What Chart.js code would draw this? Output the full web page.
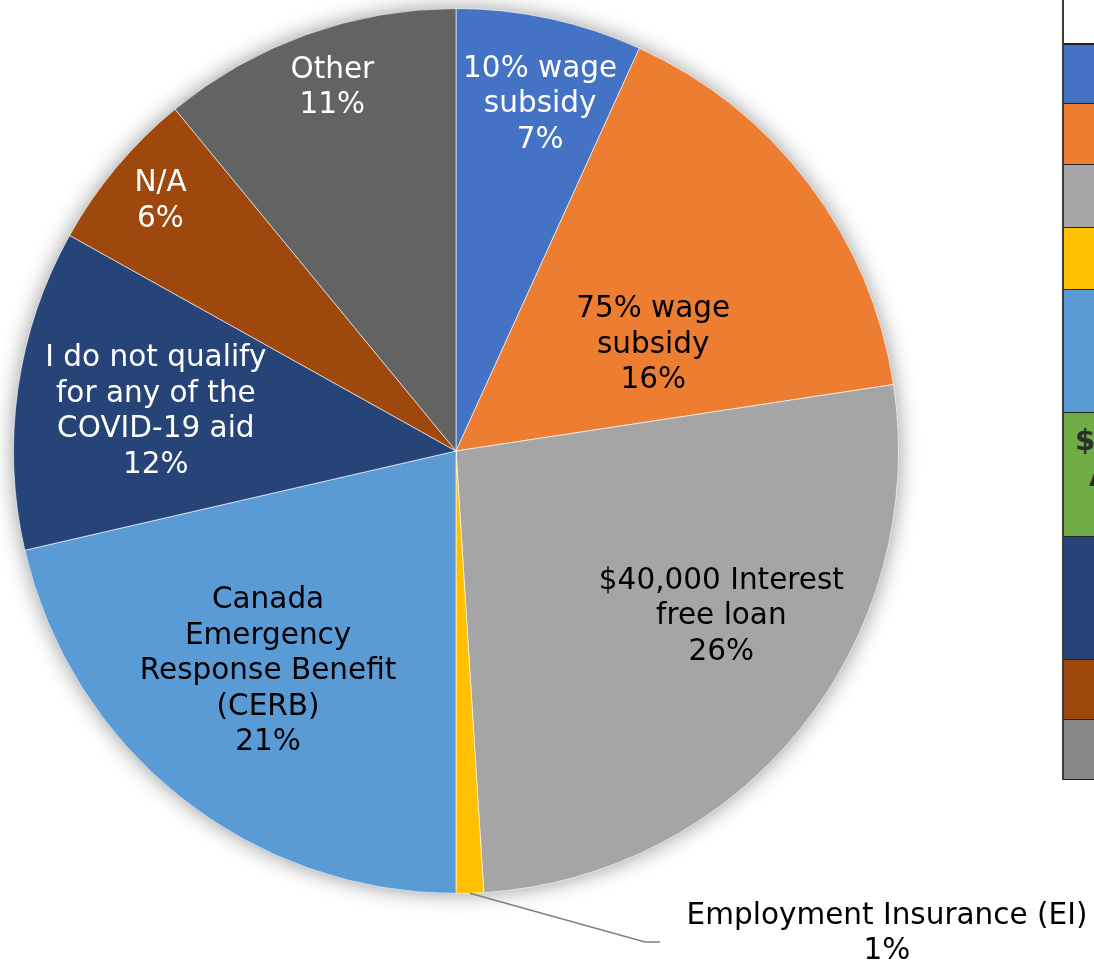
<!DOCTYPE html>
<html>
<head>
<meta charset="utf-8">
<script src="https://cdn.jsdelivr.net/npm/chart.js@4.4.1/dist/chart.umd.min.js"></script>
<style>
  html, body { margin: 0; padding: 0; background: #fff; }
  #wrap { position: relative; width: 1094px; height: 965px; overflow: hidden; }
  #pie { position: absolute; left: 0; top: 0; }
  #side { position: absolute; left: 1062px; top: 0; width: 60px; border-left: 2px solid #3a3a3a; font-family: "DejaVu Sans", sans-serif; }
  #side div { box-sizing: border-box; border-bottom: 1px solid #222; position: relative; overflow: hidden; }
  #side span { position: absolute; font-weight: bold; color: #2d2d2d; font-size: 29px; }
</style>
</head>
<body>
<div id="wrap">
  <canvas id="pie" width="1094" height="965"></canvas>
  <div id="side"></div>
</div>
<script>
// ---- 数据 ----
const categories = ['10% wage subsidy', '75% wage subsidy', '$40,000 Interest free loan', 'Employment Insurance (EI)',
  'Canada Emergency Response Benefit (CERB)', 'Other program', 'I do not qualify for any of the COVID-19 aid', 'N/A', 'Other']
const values = [6.8, 15.8, 26.4, 1.0, 21.4, 0, 11.7, 5.95, 10.95]
const labelLines = [['10% wage', 'subsidy'], ['75% wage', 'subsidy'], ['$40,000 Interest', 'free loan'], ['Employment Insurance (EI)'],
  ['Canada', 'Emergency', 'Response Benefit', '(CERB)'], [], ['I do not qualify', 'for any of the', 'COVID-19 aid'], ['N/A'], ['Other']]

// ---- 样式 ----
const colors = ['#4472C4', '#ED7D31', '#A5A5A5', '#FFC000', '#5B9BD5', '#70AD47', '#264478', '#9E480E', '#636363']
const textColors = ['#fff', '#000', '#000', '#000', '#000', '#000', '#fff', '#fff', '#fff']
// r: 半径比例, da: 角度偏移(度); out: 外部标注
const placement = [
  { r: 0.806, da: 1.4 }, { r: 0.506, da: 8.8 }, { r: 0.707, da: -6.9 }, { out: true, x: 887, y: 934, elbow: [645, 942, 660, 942] },
  { r: 0.655, da: 1.9 }, null, { r: 0.684, da: -0.7 }, { r: 0.874, da: 0.3 }, { r: 0.867, da: 0.9 },
]
const FONT = '29.5px "DejaVu Sans", sans-serif'
const LINE_H = 35.5

// 右侧被裁切的表格
const sideRows = [{ c: '#fff', h: 45 }, { c: colors[0], h: 59 }, { c: colors[1], h: 61 }, { c: colors[2], h: 63 }, { c: colors[3], h: 62 },
  { c: colors[4], h: 123 }, { c: colors[5], h: 124, t: [['$', 11, 10], ['A', 25, 46]] }, { c: colors[6], h: 123 }, { c: colors[7], h: 60 }, { c: '#878787', h: 60 }]
const side = document.getElementById('side')
sideRows.forEach((row, i) => {
  const d = document.createElement('div')
  d.style.height = row.h + 'px'
  d.style.background = row.c
  if (i === 0) d.style.borderBottom = '2px solid #222'
  ;(row.t || []).forEach(([txt, x, y]) => {
    const s = document.createElement('span')
    s.textContent = txt
    s.style.left = x + 'px'
    s.style.top = y + 'px'
    d.appendChild(s)
  })
  side.appendChild(d)
})

const total = values.reduce((a, b) => a + b, 0)

// 阴影
const shadowPlugin = {
  id: 'shadow',
  beforeDatasetsDraw(chart) {
    const arc = chart.getDatasetMeta(0).data[0]
    const ctx = chart.ctx
    ctx.save()
    ctx.shadowColor = 'rgba(0,0,0,0.45)'
    ctx.shadowBlur = 22
    ctx.fillStyle = '#fff'
    ctx.beginPath()
    ctx.arc(arc.x, arc.y, arc.outerRadius - 1, 0, Math.PI * 2)
    ctx.fill()
    ctx.restore()
  },
}

// 数据标签
const labelPlugin = {
  id: 'sliceLabels',
  afterDatasetsDraw(chart) {
    const ctx = chart.ctx
    const meta = chart.getDatasetMeta(0)
    ctx.save()
    ctx.font = FONT
    ctx.textAlign = 'center'
    ctx.textBaseline = 'middle'
    meta.data.forEach((arc, i) => {
      const p = placement[i]
      if (!p || !values[i]) return
      const lines = labelLines[i].concat([Math.round(values[i] / total * 100) + '%'])
      let cx, cy
      if (p.out) {
        const mid = (arc.startAngle + arc.endAngle) / 2
        const sx = arc.x + Math.cos(mid) * arc.outerRadius
        const sy = arc.y + Math.sin(mid) * arc.outerRadius
        ctx.strokeStyle = '#7f7f7f'
        ctx.lineWidth = 1.5
        ctx.beginPath()
        ctx.moveTo(sx, sy)
        ctx.lineTo(p.elbow[0], p.elbow[1])
        ctx.lineTo(p.elbow[2], p.elbow[3])
        ctx.stroke()
        cx = p.x; cy = p.y
      } else {
        const mid = (arc.startAngle + arc.endAngle) / 2 + p.da * Math.PI / 180
        cx = arc.x + Math.cos(mid) * arc.outerRadius * p.r
        cy = arc.y + Math.sin(mid) * arc.outerRadius * p.r
      }
      ctx.fillStyle = textColors[i]
      const y0 = cy - (lines.length - 1) * LINE_H / 2
      lines.forEach((ln, k) => ctx.fillText(ln, cx, y0 + k * LINE_H))
    })
    ctx.restore()
  },
}

new Chart(document.getElementById('pie'), {
  type: 'pie',
  data: {
    labels: categories,
    datasets: [{ data: values, backgroundColor: colors, borderColor: 'rgba(255,255,255,0.6)', borderWidth: 1 }],
  },
  options: {
    responsive: false,
    devicePixelRatio: 1,
    animation: false,
    layout: { padding: { left: 13, top: 8, right: 195, bottom: 71 } },
    plugins: { legend: { display: false }, tooltip: { enabled: false } },
  },
  plugins: [shadowPlugin, labelPlugin],
})
</script>
</body>
</html>
